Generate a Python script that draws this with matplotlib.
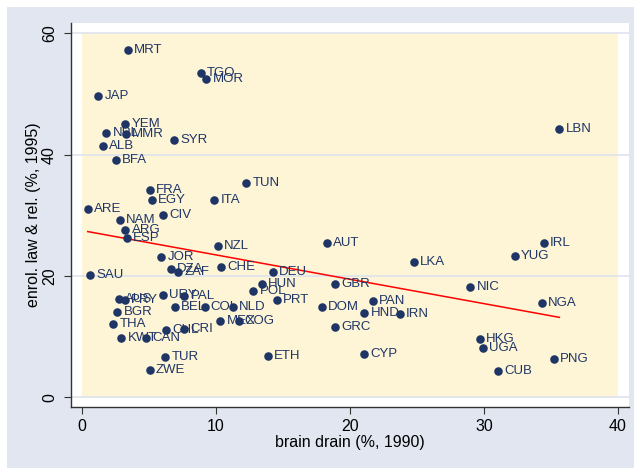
import numpy as np
import matplotlib.pyplot as plt
from matplotlib.patches import Rectangle

plt.rcParams['font.family'] = ['Liberation Sans', 'DejaVu Sans']

# country codes, brain drain (%, 1990), enrolment law & rel. (%, 1995)
codes = ["MRT", "TGO", "MOR", "JAP", "YEM", "NPL", "MMR", "SYR", "ALB", "BFA",
         "LBN", "TUN", "FRA", "EGY", "ITA", "ARE", "CIV", "NAM", "ARG", "ESP",
         "AUT", "IRL", "NZL", "YUG", "JOR", "LKA", "CHE", "DZA", "ZAF", "DEU",
         "SAU", "HUN", "GBR", "NIC", "POL", "URY", "PAL", "AUS", "PRY", "PRT",
         "PAN", "NGA", "BEL", "COL", "NLD", "DOM", "BGR", "HND", "IRN", "MEX",
         "COG", "THA", "GRC", "CHL", "CRI", "KWT", "CAN", "HKG", "UGA", "TUR",
         "ETH", "CYP", "PNG", "ZWE", "CUB"]
brain_drain = [3.44, 8.87, 9.29, 1.24, 3.26, 1.84, 3.29, 6.88, 1.57, 2.53,
               35.63, 12.28, 5.07, 5.25, 9.89, 0.45, 6.06, 2.84, 3.26, 3.38,
               18.28, 34.45, 10.17, 32.3, 5.94, 24.77, 10.38, 6.67, 7.18, 14.27,
               0.63, 13.45, 18.88, 28.99, 12.79, 6.06, 7.66, 2.75, 3.2, 14.57,
               21.72, 34.33, 6.97, 9.17, 11.28, 17.89, 2.65, 21.09, 23.71, 10.35,
               11.7, 2.35, 18.88, 6.27, 7.66, 2.96, 4.77, 29.71, 29.92, 6.24,
               13.88, 21.09, 35.23, 5.07, 31.04]
enrol = [57.25, 53.5, 52.4, 49.7, 45.1, 43.5, 43.4, 42.4, 41.4, 39.1,
         44.2, 35.3, 34.1, 32.6, 32.6, 31.0, 30.1, 29.2, 27.6, 26.3,
         25.5, 25.4, 25.0, 23.3, 23.1, 22.25, 21.5, 21.1, 20.7, 20.6,
         20.2, 18.7, 18.7, 18.1, 17.6, 16.9, 16.7, 16.2, 16.1, 16.0,
         15.9, 15.6, 14.95, 14.95, 14.95, 14.95, 14.0, 13.96, 13.8, 12.6,
         12.5, 12.1, 11.6, 11.1, 11.26, 9.78, 9.83, 9.56, 8.13, 6.7,
         6.87, 7.14, 6.26, 4.5, 4.29]

x_ticks = [0, 10, 20, 30, 40]
y_ticks = [0, 20, 40, 60]

navy = "#1f3566"

fig = plt.figure(figsize=(6.34, 4.68), dpi=100)
fig.patch.set_facecolor("white")
fig.patches.append(Rectangle((7 / 634, 0), 1, 1 - 7 / 468, transform=fig.transFigure,
                             facecolor="#e1e6f0", edgecolor="none", zorder=-10))

ax = fig.add_axes([0.1117, 0.1297, 0.8801, 0.8218])
ax.set_facecolor("white")
ax.set_xlim(-0.81, 40.81)
ax.set_ylim(-1.65, 61.75)

# inner plot region
ax.add_patch(Rectangle((0, 0), 40, 60, facecolor="#fdf5d5", edgecolor="none", zorder=0))
for yt in y_ticks:
    ax.axhline(yt, color="#dde3ee", lw=1.2, zorder=1)

x = np.array(brain_drain)
y = np.array(enrol)
ax.scatter(x, y, s=38, color=navy, zorder=3, linewidths=0)
for c, xi, yi in zip(codes, x, y):
    ax.annotate(c, (xi, yi), xytext=(4.5, 0), textcoords="offset points",
                va="center", ha="left", fontsize=9.5, color=navy, zorder=4)

# linear fit
b, a = np.polyfit(x, y, 1)
xf = np.array([x.min(), x.max()])
ax.plot(xf, a + b * xf, color="red", lw=1.1, zorder=2)

ax.set_xticks(x_ticks)
ax.set_yticks(y_ticks)
ax.tick_params(axis="both", direction="out", length=5, width=0.8, color="#333333",
               labelsize=11.5, labelcolor="black")
ax.tick_params(axis="y", labelrotation=90, pad=5)
for lab in ax.get_yticklabels():
    lab.set_va("center")
for s in ["top", "right"]:
    ax.spines[s].set_visible(False)
for s in ["left", "bottom"]:
    ax.spines[s].set_color("#333333")
    ax.spines[s].set_linewidth(1.0)

ax.set_xlabel("brain drain (%, 1990)", fontsize=11.5, labelpad=1)
ax.set_ylabel("enrol. law & rel. (%, 1995)", fontsize=11.5, labelpad=1)

fig.savefig("out.png", dpi=100)
